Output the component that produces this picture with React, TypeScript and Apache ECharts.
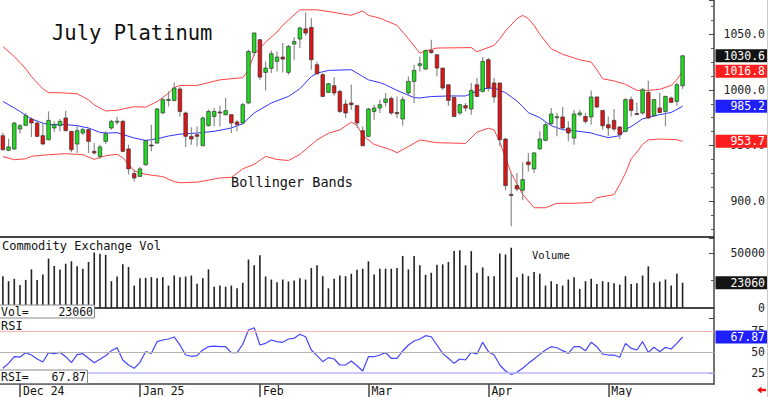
import React, { useEffect, useRef } from 'react';
import * as echarts from 'echarts';

const open = [958.8, 945.6, 946.9, 964.8, 968.1, 973.8, 970.2, 958.8, 955.2, 965.7, 967.8, 974.7, 962.7, 951.3, 961.2, 964.2, 944.7, 940.2, 953.7, 965.7, 971.2, 971.7, 946.9, 924.7, 922.2, 932.7, 950.4, 952.2, 979.2, 990.8, 990.5, 1000.8, 979.2, 958.2, 959.7, 949.8, 967.8, 976.1, 980.1, 977.7, 977.7, 971.1, 970.2, 988.2, 1033.6, 1045.1, 1015.7, 1019.3, 1025.6, 1029.5, 1015.7, 1041.2, 1045.7, 1054.9, 1056.1, 1022.6, 1013.6, 997.7, 1003.7, 998.6, 987.3, 988.2, 985.8, 963.3, 958.2, 980.6, 983.7, 988.7, 992.3, 979.7, 973.8, 997.2, 1007.6, 1022.0, 1018.7, 1035.4, 1031.6, 1019.6, 1004.6, 993.2, 979.2, 985.8, 982.8, 1004.6, 998.6, 1027.1, 1006.2, 1006.2, 955.8, 906.0, 913.9, 909.7, 935.2, 928.9, 946.9, 954.6, 969.6, 975.4, 975.6, 965.7, 956.7, 977.7, 976.1, 975.6, 993.6, 981.5, 968.7, 972.6, 966.6, 962.7, 991.2, 978.7, 979.2, 997.7, 976.8, 983.7, 980.6, 992.7, 989.6, 1003.7];
const close = [946.2, 948.7, 970.2, 967.8, 976.8, 970.2, 958.2, 951.3, 972.6, 968.7, 971.7, 963.3, 946.2, 963.3, 964.2, 953.7, 943.3, 948.7, 960.6, 971.7, 971.8, 944.7, 928.9, 920.8, 928.9, 954.3, 949.5, 982.8, 991.2, 991.4, 1001.7, 980.6, 958.2, 955.8, 958.2, 974.7, 980.6, 980.6, 979.2, 981.3, 970.2, 968.7, 986.7, 1034.5, 1051.1, 1011.5, 1019.6, 1032.5, 1029.5, 1027.7, 1039.0, 1043.5, 1055.6, 1051.1, 1027.1, 1014.5, 994.1, 1005.5, 997.2, 980.6, 979.2, 986.7, 970.2, 949.8, 982.8, 983.7, 986.7, 991.8, 979.2, 978.6, 991.2, 1007.6, 1017.5, 1023.5, 1035.4, 1033.6, 1019.6, 1001.7, 990.5, 976.1, 986.7, 983.7, 999.5, 994.1, 1025.6, 1001.7, 993.6, 955.2, 913.9, 905.2, 910.9, 919.3, 932.7, 943.3, 955.8, 968.7, 978.3, 975.9, 965.7, 961.2, 978.3, 979.2, 971.7, 993.6, 984.6, 967.8, 965.7, 964.8, 959.7, 991.2, 981.5, 978.2, 1000.1, 974.7, 991.2, 979.7, 994.1, 988.7, 1004.6, 1030.6];
const high = [961.5, 956, 971, 969.3, 979.2, 975.6, 973.2, 970.2, 980.6, 971.7, 973.8, 981.3, 963.3, 967.2, 966, 965.7, 952.2, 950.7, 962.7, 973.2, 975.9, 973.2, 950.7, 928.3, 930.7, 955.2, 968.7, 983.7, 993.6, 998.6, 1006.7, 1002.8, 980.6, 966.3, 967.2, 976.1, 982.2, 983.7, 985.8, 992.7, 977.7, 973.2, 988.2, 1036.1, 1051.6, 1045.7, 1025.6, 1035.4, 1034.5, 1042.1, 1040.6, 1047.5, 1057.0, 1069.6, 1064.6, 1025.6, 1015.1, 1006.2, 1011.5, 1000.1, 991.2, 1004.6, 986.7, 967.2, 983.7, 986.7, 991.2, 997.2, 994.1, 994.1, 994.1, 1012.1, 1022.6, 1030.1, 1036.1, 1045.1, 1031.6, 1019.6, 1004.6, 995.6, 987.6, 988.2, 1006.2, 1010.6, 1029.5, 1028.6, 1010.6, 1006.2, 956.7, 925.3, 925.3, 934.8, 943.3, 943.8, 962.7, 971.7, 983.7, 979.2, 984.6, 971.7, 982.2, 982.2, 979.2, 999.5, 994.1, 981.5, 976.1, 982.8, 967.2, 992.7, 994.1, 988.7, 1001.7, 1008.2, 991.8, 997.2, 994.7, 994.1, 1006.7, 1031.5];
const low = [945.3, 944.9, 946, 960.6, 967.8, 957.6, 957.6, 950.7, 954.6, 962.1, 962.7, 962.7, 943.8, 943.3, 959.7, 943.3, 941.7, 937.9, 951.6, 964.2, 968.7, 943.8, 923.8, 917.7, 921.7, 931.8, 944.7, 951.6, 978.6, 985.1, 989.6, 976.1, 948.7, 950.7, 949.2, 949.2, 967.2, 967.2, 967.2, 977.0, 961.2, 962.7, 968.7, 987.6, 1030.7, 1009.1, 999.5, 1015.1, 1016.6, 1015.7, 1013.6, 1027.1, 1037.6, 1048.7, 1018.1, 1013.6, 993.6, 997.2, 994.7, 979.2, 974.7, 982.2, 965.7, 949.2, 957.6, 973.2, 979.2, 985.1, 977.7, 974.7, 967.8, 995.6, 988.2, 1016.6, 1018.1, 1032.5, 1012.1, 1000.1, 985.8, 975.6, 977.7, 980.6, 977.7, 993.6, 997.7, 998.6, 988.7, 949.2, 909.7, 877.3, 908.8, 901.3, 926.7, 925.3, 946.2, 953.7, 967.8, 958.2, 964.2, 953.7, 950.7, 976.1, 969.6, 968.7, 983.7, 964.2, 958.2, 962.7, 955.8, 961.8, 976.1, 977.7, 977.7, 973.8, 976.1, 979.2, 967.2, 988.2, 985.8, 1000.8];

const volume = [29000, 24400, 26600, 21000, 25600, 35200, 25600, 30600, 45100, 38300, 35200, 40400, 42600, 38000, 35800, 42000, 50600, 49400, 48500, 24400, 28700, 39800, 37300, 20400, 27200, 27500, 28100, 27200, 28100, 20400, 29600, 28100, 28700, 29600, 22100, 27200, 35200, 19400, 20400, 19400, 20400, 17900, 22900, 44200, 38900, 48100, 28700, 25900, 23500, 25900, 24100, 25000, 27200, 25900, 36400, 38900, 29000, 17900, 26600, 29600, 29000, 31200, 34900, 35800, 42600, 30600, 35800, 35800, 35800, 36400, 47500, 35200, 47500, 38900, 30300, 32100, 39500, 39800, 42000, 51900, 52800, 38900, 51900, 32100, 37000, 29000, 29000, 49700, 48800, 54900, 28100, 31200, 29000, 32700, 31200, 20400, 24400, 21900, 20400, 25900, 28100, 17300, 24400, 26600, 21900, 24400, 23500, 22500, 21300, 29000, 21900, 22500, 29600, 38000, 22900, 24100, 25900, 20400, 31200, 23060];

const rsi = [30.6, 36.5, 44.4, 44, 49.2, 46.4, 41.7, 38.1, 49.2, 48, 49.6, 44.4, 37.3, 46.8, 48, 42.5, 37.3, 41.3, 45.6, 51.6, 55.1, 40.5, 34.5, 30.6, 37.7, 50.4, 48.4, 62.3, 64.3, 65.5, 67.9, 58.3, 46.4, 44.9, 45.6, 52.4, 56.3, 57.1, 56.3, 56.3, 49.2, 49.2, 59.2, 76.2, 78.9, 58.3, 60.3, 64.3, 62.3, 61.5, 65.5, 66.3, 71.1, 68.2, 52.4, 45.6, 38.5, 43.3, 41.7, 34.5, 34.5, 39.3, 33.7, 27.4, 44.4, 44.4, 46.4, 49.2, 42.5, 42.5, 51.2, 58.3, 63.1, 65.5, 69.4, 68.2, 58.3, 48.4, 42.5, 36.5, 41.7, 40.5, 49.6, 47.6, 61.5, 50.4, 46.4, 34.5, 27.4, 23.4, 25.8, 30.6, 36.5, 41.7, 47.2, 52.4, 56.3, 55.1, 51.6, 48.4, 56.3, 56.3, 51.6, 61.5, 56.3, 47.6, 46.4, 46.4, 43.7, 60.3, 54.4, 52.4, 62.3, 49.6, 55.6, 50.4, 55.6, 53.6, 60.3, 67.87];

const upperBand = [[0, 1039], [2, 1030], [4, 1019], [5, 1012], [7, 1001], [8, 997.5], [10, 997.4], [13, 996.5], [15, 991], [16, 986.5], [18, 981], [20, 981.7], [23, 984.9], [25, 984.4], [27, 989.4], [29, 997], [30, 1002], [31, 1004], [34, 1004], [38, 1009], [42, 1011], [43, 1018], [44, 1032], [46, 1043], [48, 1052], [49, 1058], [51, 1067.5], [52, 1072], [55, 1072], [58, 1069.6], [61, 1067], [63, 1071], [64, 1067], [66, 1064.5], [69, 1058], [71, 1046], [73, 1033], [74, 1035], [76, 1037.6], [82, 1038], [83, 1034.3], [86, 1040], [87, 1046], [88, 1053], [90, 1064], [91, 1067], [92, 1064], [93, 1058], [94, 1050], [96, 1037], [98, 1032], [101, 1027], [103, 1025], [104, 1018], [105, 1010], [107, 1008], [109, 1005], [111, 999.5], [113, 999.5], [115, 1000.5], [117, 1004], [118, 1009], [119, 1016.8]];
const midBand = [[0, 989.6], [2, 983.7], [3, 980.6], [5, 973.8], [7, 970.2], [8, 968.8], [11, 968.8], [13, 967.8], [15, 965.7], [17, 961.8], [18, 961.2], [20, 961.5], [23, 956.7], [25, 954.5], [27, 956], [29, 958.5], [31, 960.2], [34, 961.2], [37, 962.7], [40, 965.7], [42, 969.6], [44, 979.2], [47, 988.2], [50, 994.1], [52, 1001], [54, 1012], [55, 1015], [57, 1017.5], [61, 1018.1], [63, 1012], [64, 1009], [66, 1006.5], [67, 1004.6], [69, 999.5], [72, 993], [73, 992.7], [75, 994], [78, 994.5], [81, 994.5], [84, 1001], [86, 1001.7], [88, 997.5], [90, 990], [91, 985], [92, 979.5], [94, 975], [96, 967.8], [98, 964.2], [100, 963.3], [103, 961.2], [104, 959.7], [106, 957], [108, 958.8], [109, 964.5], [110, 967], [112, 974], [115, 977.7], [117, 979.7], [119, 985.2]];
const lowerBand = [[0, 940], [2, 937.2], [4, 938], [5, 940.3], [8, 941.7], [11, 942.6], [14, 941.7], [16, 937.5], [18, 940.8], [20, 942], [21, 939], [23, 927], [25, 924], [28, 922], [30, 917.5], [31, 916.5], [34, 917], [38, 920.8], [40, 921.3], [42, 929], [44, 933], [46, 940.2], [48, 937.4], [50, 936.5], [52, 942], [55, 955], [57, 961], [59, 964], [61, 971], [62, 968], [63, 959], [65, 951], [68, 946], [69, 943.5], [71, 949], [73, 955], [76, 952.5], [81, 951.8], [83, 962], [85, 965.5], [86, 964], [87, 953], [89, 925], [91, 906], [92, 900], [93, 894], [95, 894], [97, 898], [100, 898], [103, 898.7], [104, 903], [107, 905.8], [108, 915], [109, 925], [110, 938], [111, 944], [112, 951], [113, 955], [115, 955.8], [118, 955.2], [119, 953.7]];

const monthTickIndex = [3, 24, 45, 64, 85, 106];
const monthTickLabels = ['Dec 24', 'Jan 25', 'Feb', 'Mar', 'Apr', 'May'];
const rsiLevels = [75, 50, 25];
const CATEGORY_COUNT = 125;

const FONT = 'DejaVu Sans Mono';

export default function App() {
  const ref = useRef<HTMLDivElement>(null);

  useEffect(() => {
    const chart = echarts.init(ref.current as HTMLDivElement, undefined, { renderer: 'svg', width: 768, height: 397 });
    const categories = Array.from({ length: CATEGORY_COUNT }, (_, i) => String(i));
    const candleData = open.map((o, i) => [i, o, close[i], low[i], high[i]]);
    const isMonth = (idx: number) => monthTickIndex.indexOf(idx) >= 0;

    const makeX = (gi: number, showLabels: boolean, lineWidth: number) => ({
      type: 'category',
      gridIndex: gi,
      data: categories,
      boundaryGap: true,
      axisLine: { show: true, lineStyle: { color: '#444', width: lineWidth } },
      axisTick: {
        show: showLabels,
        interval: (i: number) => isMonth(i),
        alignWithLabel: true,
        length: 13,
        lineStyle: { color: '#444', width: 1.5 },
      },
      axisLabel: {
        show: showLabels,
        interval: (i: number) => isMonth(i),
        formatter: (_v: string, i: number) => {
          const k = monthTickIndex.indexOf(i);
          return k >= 0 ? monthTickLabels[k] : '';
        },
        align: 'left',
        padding: [0, 0, 0, 3],
        margin: 1,
        fontFamily: FONT,
        fontSize: 11.5,
        color: '#111',
      },
      splitLine: { show: false },
    });

    const makeY = (gi: number, min: number, max: number, step: number, minorSplit: number, fmt: (v: number) => string) => ({
      type: 'value',
      gridIndex: gi,
      position: 'right',
      min,
      max,
      minInterval: step,
      maxInterval: step,
      splitNumber: 3,
      axisLine: { show: true, lineStyle: { color: '#444', width: 1.5 } },
      axisTick: { show: true, inside: true, length: 5, lineStyle: { color: '#444' } },
      minorTick: { show: minorSplit > 1, splitNumber: minorSplit, length: 3, lineStyle: { color: '#555' } },
      axisLabel: {
        formatter: fmt,
        align: 'right',
        margin: 51,
        fontFamily: FONT,
        fontSize: 11.5,
        color: '#222',
        showMinLabel: false,
        showMaxLabel: false,
      },
      splitLine: { show: false },
    });

    const option: any = {
      animation: false,
      backgroundColor: '#ffffff',
      grid: [
        { left: -2, right: 53, top: 0, height: 237 },
        { left: -2, right: 53, top: 238, height: 80 },
        { left: -2, right: 53, top: 319, height: 65 },
      ],
      xAxis: [makeX(0, false, 2), makeX(1, false, 2), makeX(2, true, 1.5)],
      yAxis: [
        makeY(0, 867.7, 1080.8, 50, 4, (v: number) => v.toFixed(1)),
        makeY(1, -9260, 63900, 50000, 2, (v: number) => String(Math.round(v))),
        makeY(2, 11.9, 89.3, 25, 1, (v: number) => String(Math.round(v))),
      ],
      series: [
        {
          type: 'line', xAxisIndex: 0, yAxisIndex: 0, data: upperBand, showSymbol: false,
          lineStyle: { color: '#ff4444', width: 1 }, z: 1, silent: true,
        },
        {
          type: 'line', xAxisIndex: 0, yAxisIndex: 0, data: lowerBand, showSymbol: false,
          lineStyle: { color: '#ff4444', width: 1 }, z: 1, silent: true,
        },
        {
          type: 'line', xAxisIndex: 0, yAxisIndex: 0, data: midBand, showSymbol: false,
          lineStyle: { color: '#3333ff', width: 1 }, z: 1, silent: true,
        },
        {
          type: 'custom', xAxisIndex: 0, yAxisIndex: 0, data: candleData, z: 3,
          encode: { x: 0, y: [1, 2, 3, 4] },
          renderItem: (_params: any, api: any) => {
            const i = api.value(0);
            const o = api.value(1);
            const c = api.value(2);
            const l = api.value(3);
            const h = api.value(4);
            const pO = api.coord([i, o]);
            const pC = api.coord([i, c]);
            const pL = api.coord([i, l]);
            const pH = api.coord([i, h]);
            const x = pO[0];
            const up = c >= o;
            const top = Math.min(pO[1], pC[1]);
            const bottom = Math.max(pO[1], pC[1]);
            const hgt = Math.max(bottom - top, 1);
            return {
              type: 'group',
              children: [
                { type: 'line', shape: { x1: x, y1: pH[1], x2: x, y2: pL[1] }, style: { stroke: '#8c8c8c', lineWidth: 1.2 } },
                {
                  type: 'rect',
                  shape: { x: x - 1.8, y: top, width: 3.6, height: hgt },
                  style: { fill: up ? '#1fdc1f' : '#e01414', stroke: '#333333', lineWidth: 0.7 },
                },
              ],
            };
          },
        },
        {
          type: 'bar', xAxisIndex: 1, yAxisIndex: 1, data: volume, barWidth: 1.6,
          itemStyle: { color: '#222222' }, silent: true,
        },
        {
          type: 'line', xAxisIndex: 2, yAxisIndex: 2, data: rsi, showSymbol: false,
          lineStyle: { color: '#4444ff', width: 1.2 }, silent: true, z: 3,
          markLine: {
            silent: true,
            symbol: ['none', 'none'],
            label: { show: false },
            data: rsiLevels.map((lv, k) => ({
              yAxis: lv,
              lineStyle: { color: k === 0 ? '#ffb4b4' : k === 1 ? '#b4b4b4' : '#b8b8ff', width: k === 2 ? 1.6 : 1, type: 'solid' },
            })),
          },
        },
      ],
    };

    chart.setOption(option);

    const yPx = (axis: number, v: number) => chart.convertToPixel({ yAxisIndex: axis } as any, v) as unknown as number;
    const last = close.length - 1;
    const boxes = [
      { axis: 0, value: close[last], text: close[last].toFixed(1), bg: '#141414' },
      { axis: 0, value: upperBand[upperBand.length - 1][1], text: upperBand[upperBand.length - 1][1].toFixed(1), bg: '#ff1e1e' },
      { axis: 0, value: midBand[midBand.length - 1][1], text: midBand[midBand.length - 1][1].toFixed(1), bg: '#1e1eff' },
      { axis: 0, value: lowerBand[lowerBand.length - 1][1], text: lowerBand[lowerBand.length - 1][1].toFixed(1), bg: '#ff1e1e' },
      { axis: 1, value: volume[last], text: String(volume[last]), bg: '#141414' },
      { axis: 2, value: rsi[last], text: rsi[last].toFixed(2), bg: '#1e1eff' },
    ];

    const graphics: any[] = [];
    boxes.forEach((b) => {
      const py = yPx(b.axis, b.value);
      graphics.push({
        type: 'rect', z: 100, shape: { x: 715.5, y: py - 6.5, width: 51.5, height: 13 },
        style: { fill: b.bg },
      });
      graphics.push({
        type: 'text', z: 101, style: {
          text: b.text, x: 765, y: py, fill: '#ffffff', font: `11.5px ${FONT}`,
          textAlign: 'right', textVerticalAlign: 'middle',
        },
      });
    });

    const label = (text: string, x: number, y: number, size: number, extra: any = {}) => ({
      type: 'text', z: 101,
      style: { text, x, y, fill: '#111111', font: `${size}px ${FONT}`, textAlign: 'left', textVerticalAlign: 'middle', ...extra },
    });

    graphics.push(label('July Platinum', 52, 33, 20.5));
    graphics.push(label('Bollinger Bands', 231, 182, 13.5));
    graphics.push(label('Commodity Exchange Vol', 2, 245.5, 12));
    graphics.push(label('Volume', 532, 254.5, 10.5));
    graphics.push(label('RSI', 1, 326, 12));

    // Vol= box
    graphics.push({ type: 'rect', z: 100, shape: { x: -1, y: 305, width: 95.5, height: 13 }, style: { fill: '#ffffff', stroke: '#8a8a8a', lineWidth: 1 } });
    graphics.push(label('Vol=', 1, 311.5, 11.5));
    graphics.push(label(String(volume[last]), 93, 311.5, 11.5, { textAlign: 'right' }));
    // RSI= box
    graphics.push({ type: 'rect', z: 100, shape: { x: -1, y: 370, width: 88.5, height: 13.5 }, style: { fill: '#ffffff', stroke: '#8a8a8a', lineWidth: 1 } });
    graphics.push(label('RSI=', 1, 376.5, 11.5));
    graphics.push(label(rsi[last].toFixed(2), 86, 376.5, 11.5, { textAlign: 'right' }));

    // right border and arrow
    graphics.push({ type: 'line', z: 99, shape: { x1: 767.5, y1: 0, x2: 767.5, y2: 397 }, style: { stroke: '#cccccc', lineWidth: 1 } });
    graphics.push({
      type: 'polygon', z: 101,
      shape: { points: [[757, 390], [761.5, 386.5], [761.5, 388.8], [766, 388.8], [766, 391.2], [761.5, 391.2], [761.5, 393.5]] },
      style: { fill: '#ee1111' },
    });

    chart.setOption({ graphic: { elements: graphics } });

    return () => {
      chart.dispose();
    };
  }, []);

  return <div ref={ref} style={{ position: 'absolute', left: 0, top: 0, width: 768, height: 397 }} />;
}
